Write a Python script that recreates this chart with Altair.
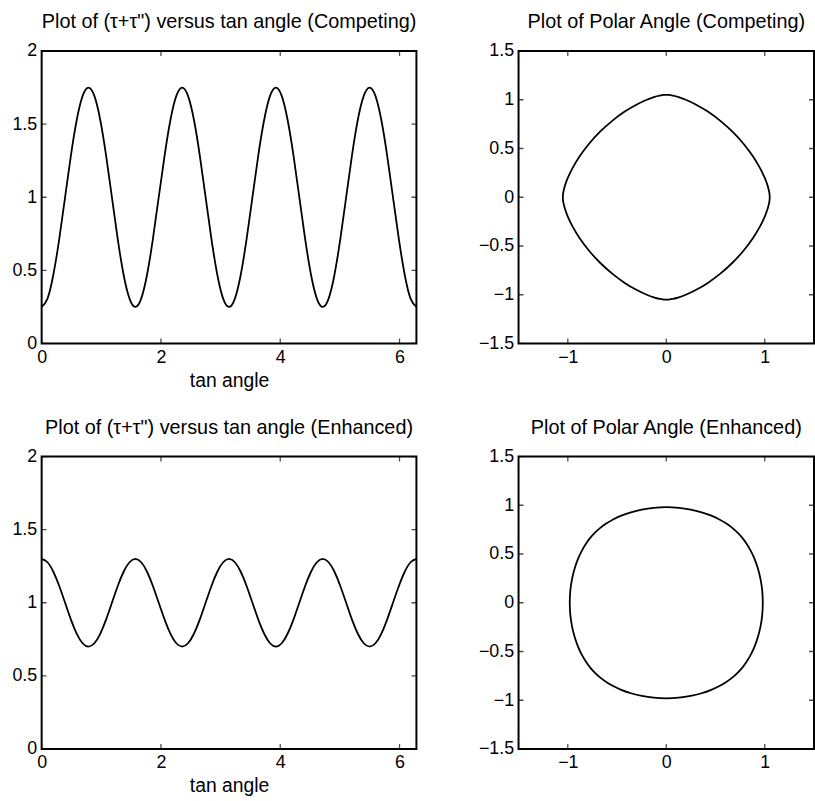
import altair as alt
import pandas as pd

# ---------------- data ----------------
tan_angle = [0.000, 0.098, 0.196, 0.295, 0.393, 0.491, 0.589, 0.687, 0.785, 0.884,
             0.982, 1.080, 1.178, 1.276, 1.374, 1.473, 1.571, 1.669, 1.767, 1.865,
             1.963, 2.062, 2.160, 2.258, 2.356, 2.454, 2.553, 2.651, 2.749, 2.847,
             2.945, 3.043, 3.142, 3.240, 3.338, 3.436, 3.534, 3.632, 3.731, 3.829,
             3.927, 4.025, 4.123, 4.222, 4.320, 4.418, 4.516, 4.614, 4.712, 4.811,
             4.909, 5.007, 5.105, 5.203, 5.301, 5.400, 5.498, 5.596, 5.694, 5.792,
             5.890, 5.989, 6.087, 6.185, 6.283]

tau_competing = [0.250, 0.307, 0.470, 0.713, 1.000, 1.287, 1.530, 1.693, 1.750, 1.693,
                 1.530, 1.287, 1.000, 0.713, 0.470, 0.307, 0.250, 0.307, 0.470, 0.713,
                 1.000, 1.287, 1.530, 1.693, 1.750, 1.693, 1.530, 1.287, 1.000, 0.713,
                 0.470, 0.307, 0.250, 0.307, 0.470, 0.713, 1.000, 1.287, 1.530, 1.693,
                 1.750, 1.693, 1.530, 1.287, 1.000, 0.713, 0.470, 0.307, 0.250, 0.307,
                 0.470, 0.713, 1.000, 1.287, 1.530, 1.693, 1.750, 1.693, 1.530, 1.287,
                 1.000, 0.713, 0.470, 0.307, 0.250]

tau_enhanced = [1.300, 1.277, 1.212, 1.115, 1.000, 0.885, 0.788, 0.723, 0.700, 0.723,
                0.788, 0.885, 1.000, 1.115, 1.212, 1.277, 1.300, 1.277, 1.212, 1.115,
                1.000, 0.885, 0.788, 0.723, 0.700, 0.723, 0.788, 0.885, 1.000, 1.115,
                1.212, 1.277, 1.300, 1.277, 1.212, 1.115, 1.000, 0.885, 0.788, 0.723,
                0.700, 0.723, 0.788, 0.885, 1.000, 1.115, 1.212, 1.277, 1.300, 1.277,
                1.212, 1.115, 1.000, 0.885, 0.788, 0.723, 0.700, 0.723, 0.788, 0.885,
                1.000, 1.115, 1.212, 1.277, 1.300]

# first-quadrant points of the polar curves (other quadrants are mirror images)
comp_qx = [1.050, 1.049, 1.043, 1.029, 1.000, 0.952, 0.881, 0.786, 0.672,
           0.546, 0.418, 0.299, 0.198, 0.119, 0.063, 0.026, 0.000]
comp_qy = [0.000, 0.026, 0.063, 0.119, 0.198, 0.299, 0.418, 0.546, 0.672,
           0.786, 0.881, 0.952, 1.000, 1.029, 1.043, 1.049, 1.050]
enh_qx = [0.980, 0.974, 0.956, 0.928, 0.893, 0.854, 0.812, 0.768, 0.721,
          0.670, 0.610, 0.540, 0.457, 0.359, 0.248, 0.127, 0.000]
enh_qy = [0.000, 0.127, 0.248, 0.359, 0.457, 0.540, 0.610, 0.670, 0.721,
          0.768, 0.812, 0.854, 0.893, 0.928, 0.956, 0.974, 0.980]

line_x_ticks = [0, 2, 4, 6]
line_y_ticks = [0, 0.5, 1, 1.5, 2]
polar_x_ticks = [-1, 0, 1]
polar_y_ticks = [-1.5, -1, -0.5, 0, 0.5, 1, 1.5]

titles = ['Plot of (\u03c4+\u03c4") versus tan angle (Competing)',
          'Plot of Polar Angle (Competing)',
          'Plot of (\u03c4+\u03c4") versus tan angle (Enhanced)',
          'Plot of Polar Angle (Enhanced)']

FONT = "Liberation Sans"


def full_loop(qx, qy):
    n = len(qx)
    xs, ys = list(qx), list(qy)
    for k in range(n - 2, -1, -1):
        xs.append(-qx[k]); ys.append(qy[k])
    for k in range(1, n):
        xs.append(-qx[k]); ys.append(-qy[k])
    for k in range(n - 2, 0, -1):
        xs.append(qx[k]); ys.append(-qy[k])
    return pd.DataFrame({"x": xs, "y": ys, "i": list(range(len(xs)))})


def tick_frames(xt, yt, xdom, ydom):
    xdf = pd.DataFrame({"x": xt + xt, "y": [ydom[0]] * len(xt) + [ydom[1]] * len(xt)})
    ydf = pd.DataFrame({"x": [xdom[0]] * len(yt) + [xdom[1]] * len(yt), "y": yt + yt})
    return xdf, ydf


def panel(df, xdom, ydom, xt, yt, xtitle, title, w, h, closed):
    xenc = alt.X("x:Q", scale=alt.Scale(domain=xdom, nice=False, zero=False),
                 axis=alt.Axis(values=xt, format="~g", labelFlush=False),
                 title=xtitle)
    yenc = alt.Y("y:Q", scale=alt.Scale(domain=ydom, nice=False, zero=False),
                 axis=alt.Axis(values=yt, format="~g"), title=None)
    if closed:
        line = alt.Chart(df).mark_line(color="black", strokeWidth=1.8,
                                       interpolate="cardinal-closed").encode(
            x=xenc, y=yenc, order=alt.Order("i:Q"))
    else:
        line = alt.Chart(df).mark_line(color="black", strokeWidth=1.8,
                                       interpolate="natural").encode(x=xenc, y=yenc)
    xdf, ydf = tick_frames(xt, yt, xdom, ydom)
    tx = alt.Chart(xdf).mark_tick(orient="vertical", size=10, thickness=1.3,
                                  color="black", clip=True).encode(x=xenc, y=yenc)
    ty = alt.Chart(ydf).mark_tick(orient="horizontal", size=10, thickness=1.3,
                                  color="black", clip=True).encode(x=xenc, y=yenc)
    return alt.layer(line, tx, ty).properties(width=w, height=h, title=title)


LW, PW, H = 378, 298, 295

tl = panel(pd.DataFrame({"x": tan_angle, "y": tau_competing}), [0, 6.2832], [0, 2],
           line_x_ticks, line_y_ticks, "tan angle", titles[0], LW, H, False)
tr = panel(full_loop(comp_qx, comp_qy), [-1.5, 1.5], [-1.5, 1.5],
           polar_x_ticks, polar_y_ticks, None, titles[1], PW, H, True)
bl = panel(pd.DataFrame({"x": tan_angle, "y": tau_enhanced}), [0, 6.2832], [0, 2],
           line_x_ticks, line_y_ticks, "tan angle", titles[2], LW, H, False)
br = panel(full_loop(enh_qx, enh_qy), [-1.5, 1.5], [-1.5, 1.5],
           polar_x_ticks, polar_y_ticks, None, titles[3], PW, H, True)

chart = alt.vconcat(
    alt.hconcat(tl, tr, spacing=56),
    alt.hconcat(bl, br, spacing=56),
    spacing=26,
).configure(
    padding={"left": 10, "top": 8, "right": 0, "bottom": 0},
    background="white",
).configure_view(
    stroke="black", strokeWidth=2
).configure_axis(
    domain=False, ticks=False, grid=False,
    labelFont=FONT, labelFontSize=18, labelColor="black", labelPadding=5,
    labelOverlap=False,
    titleFont=FONT, titleFontSize=19.5, titleFontWeight="normal", titleColor="black",
    titlePadding=5,
).configure_title(
    font=FONT, fontSize=20, fontWeight="normal", color="black", anchor="middle",
    offset=10,
)

chart.save("out.html", embed_options={"renderer": "svg", "actions": False})
